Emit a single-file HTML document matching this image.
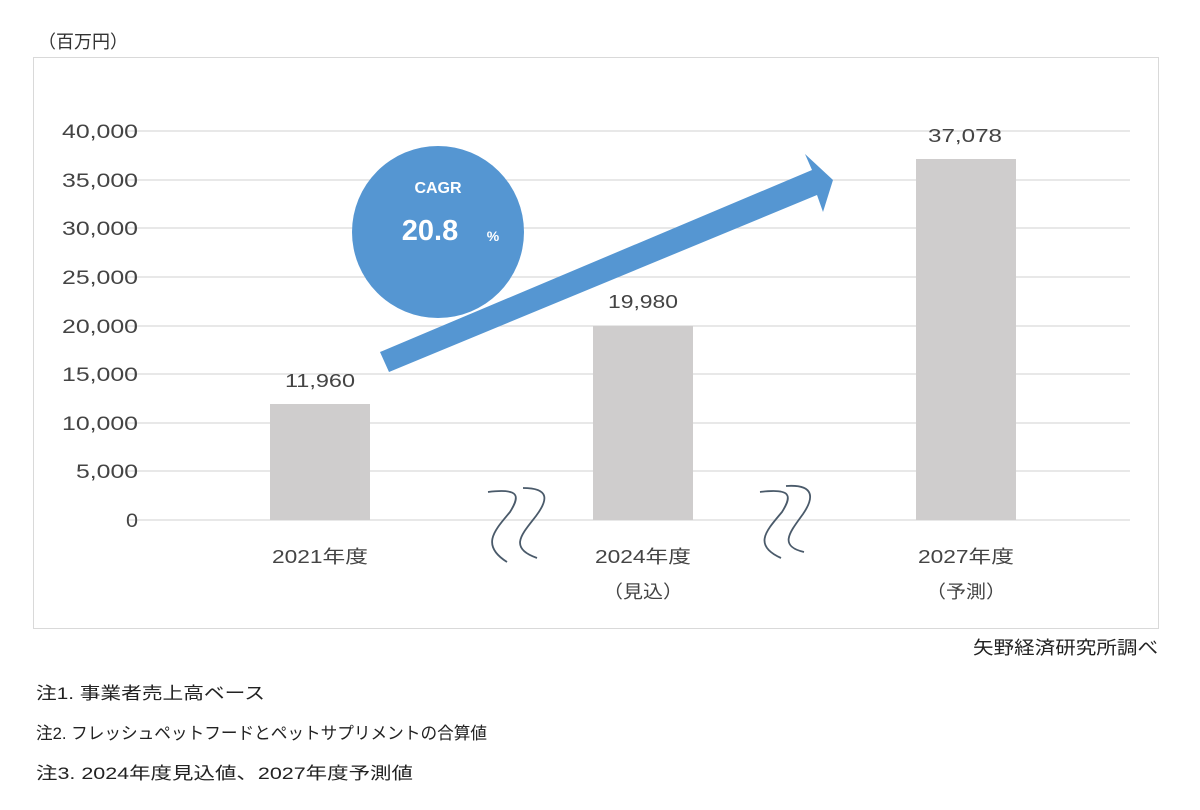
<!DOCTYPE html>
<html><head><meta charset="utf-8"><style>
body{margin:0;background:#fff;width:1200px;height:805px;overflow:hidden;font-family:"Liberation Sans","Noto Sans CJK JP",sans-serif;}
svg text{font-family:"Liberation Sans","Noto Sans CJK JP",sans-serif;}
</style></head><body>
<svg width="1200" height="805" xmlns="http://www.w3.org/2000/svg">
<text x="38" y="48" font-size="18" fill="#333" textLength="90" lengthAdjust="spacingAndGlyphs">（百万円）</text>
<rect x="33.5" y="57.5" width="1125" height="571" fill="none" stroke="#d9d9d9"/>
<g stroke="#d9d9d9" stroke-width="1.3">
<line x1="128" x2="1130" y1="131" y2="131"/><line x1="128" x2="1130" y1="180" y2="180"/>
<line x1="128" x2="1130" y1="228" y2="228"/><line x1="128" x2="1130" y1="277" y2="277"/>
<line x1="128" x2="1130" y1="326" y2="326"/><line x1="128" x2="1130" y1="374" y2="374"/>
<line x1="128" x2="1130" y1="423" y2="423"/><line x1="128" x2="1130" y1="471" y2="471"/>
<line x1="128" x2="1130" y1="520" y2="520"/>
</g>
<g font-size="19" fill="#444">
<text x="62" y="138" textLength="76" lengthAdjust="spacingAndGlyphs">40,000</text>
<text x="62" y="187" textLength="76" lengthAdjust="spacingAndGlyphs">35,000</text>
<text x="62" y="235" textLength="76" lengthAdjust="spacingAndGlyphs">30,000</text>
<text x="62" y="284" textLength="76" lengthAdjust="spacingAndGlyphs">25,000</text>
<text x="62" y="333" textLength="76" lengthAdjust="spacingAndGlyphs">20,000</text>
<text x="62" y="381" textLength="76" lengthAdjust="spacingAndGlyphs">15,000</text>
<text x="62" y="430" textLength="76" lengthAdjust="spacingAndGlyphs">10,000</text>
<text x="76" y="478" textLength="62" lengthAdjust="spacingAndGlyphs">5,000</text>
<text x="126" y="527" textLength="12" lengthAdjust="spacingAndGlyphs">0</text>
</g>
<g fill="#cfcdcd">
<rect x="270" y="404" width="100" height="116"/>
<rect x="593" y="326" width="100" height="194"/>
<rect x="916" y="159" width="100" height="361"/>
</g>
<g font-size="18" fill="#444">
<text x="285" y="387" textLength="70" lengthAdjust="spacingAndGlyphs">11,960</text>
<text x="608" y="308" textLength="70" lengthAdjust="spacingAndGlyphs">19,980</text>
<text x="928" y="142" textLength="74" lengthAdjust="spacingAndGlyphs">37,078</text>
<text x="272" y="563" textLength="96" lengthAdjust="spacingAndGlyphs">2021年度</text>
<text x="595" y="563" textLength="96" lengthAdjust="spacingAndGlyphs">2024年度</text>
<text x="603" y="598" textLength="80" lengthAdjust="spacingAndGlyphs">（見込）</text>
<text x="918" y="563" textLength="96" lengthAdjust="spacingAndGlyphs">2027年度</text>
<text x="926" y="598" textLength="80" lengthAdjust="spacingAndGlyphs">（予測）</text>
</g>
<circle cx="438" cy="232" r="86" fill="#5596d2"/>
<text x="438" y="193" font-size="16" font-weight="bold" fill="#fff" text-anchor="middle">CAGR</text>
<text x="430" y="240" font-size="29" font-weight="bold" fill="#fff" text-anchor="middle">20.8</text>
<text x="493" y="241" font-size="14" font-weight="bold" fill="#fff" text-anchor="middle">%</text>
<polygon points="380,352 812,170 805,154 833,180 823,212 817,195 389,372" fill="#5596d2"/>
<g fill="none" stroke="#4a5a6a" stroke-width="1.8">
<path d="M488,492 C520,488 520,496 510,512 C495,530 480,545 507,562"/>
<path d="M523,488 C550,488 548,500 536,516 C522,534 508,548 537,558"/>
<path d="M760,492 C792,488 792,496 782,512 C767,530 752,545 781,558"/>
<path d="M786,486 C815,484 814,498 803,514 C790,532 778,546 804,552"/>
</g>
<text x="973" y="654" font-size="18" fill="#222" textLength="185" lengthAdjust="spacingAndGlyphs">矢野経済研究所調べ</text>
<g font-size="17" fill="#222">
<text x="36" y="699" textLength="229" lengthAdjust="spacingAndGlyphs">注1. 事業者売上高ベース</text>
<text x="36" y="739" textLength="451" lengthAdjust="spacingAndGlyphs">注2. フレッシュペットフードとペットサプリメントの合算値</text>
<text x="36" y="779" textLength="377" lengthAdjust="spacingAndGlyphs">注3. 2024年度見込値、2027年度予測値</text>
</g>
</svg>
</body></html>
